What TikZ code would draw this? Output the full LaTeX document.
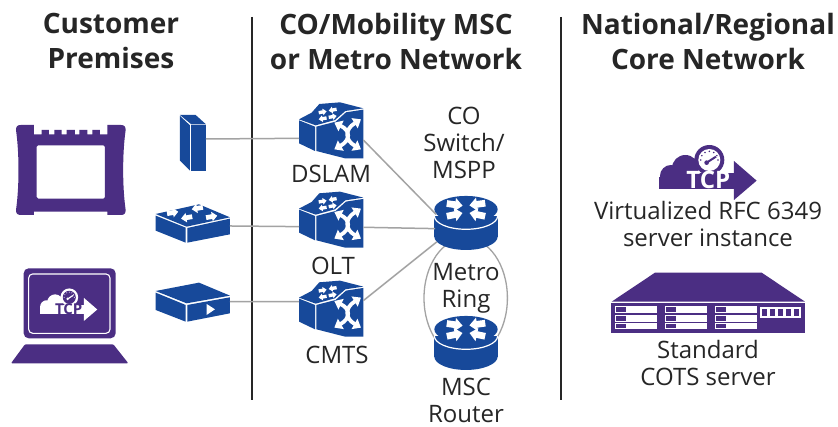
\documentclass[tikz,border=0pt]{standalone}
\usepackage{fontspec}
\setmainfont{Open Sans}
\usetikzlibrary{arrows.meta}
\definecolor{vblue}{HTML}{17499A}
\definecolor{vpurple}{HTML}{4B2E83}
\definecolor{vgray}{HTML}{A3A3A3}
\definecolor{vtext}{HTML}{262626}
\tikzset{
  wire/.style={draw=vgray,line width=1.5pt},
  divider/.style={draw=vtext,line width=1.1pt},
  lbl/.style={text=vtext,align=center,inner sep=0pt,font=\fontsize{24}{27}\selectfont},
  head/.style={text=vtext,align=center,inner sep=0pt,font=\fontsize{28}{35}\selectfont\bfseries},
  xarrow/.style={draw=white,line width=3.8pt,{Triangle[length=7.5pt,width=11.5pt]}-{Triangle[length=7.5pt,width=11.5pt]}},
  zoomed/.style={x=.3333pt,y=-.3333pt},
}
\newcommand{\smallarrow}[4]{%
  \fill[white,shift={(#1,#2)},rotate=#3,scale=#4]
    (-1,-.42)--(0.05,-.42)--(0.05,-.85)--(1,0)--(0.05,.85)--(0.05,.42)--(-1,.42)--cycle;}
% #1 x, #2 y, #3 name, #4 left port y, #5 right port y
\newcommand{\xswitch}[5]{%
  \begin{scope}[shift={(#1,#2)},zoomed]
    \fill[vblue] (57,88)--(95,68)--(118,42)--(180,37)--(250,55)--(196,63)--(165,90)--(107,106)--cycle;
    \fill[vblue] (57,91)--(105,110)--(105,183)--(57,160)--cycle;
    \fill[vblue] (109,110)--(167,95)--(198,67)--(250,59)--(250,205)--(195,205)--(109,183)--cycle;
    \smallarrow{128}{66}{10}{12}\smallarrow{158}{60}{190}{12}
    \smallarrow{128}{86}{190}{12}\smallarrow{158}{80}{10}{12}
    \draw[xarrow] (163,98) .. controls (212,122) and (212,150) .. (163,178);
    \draw[xarrow] (243,88) .. controls (194,118) and (194,150) .. (243,178);
    \coordinate (#3L) at (57,#4);
    \coordinate (#3R) at (250,#5);
  \end{scope}}
% #1 x, #2 y of the top-face centre, #3 name
\newcommand{\vrouter}[3]{%
  \begin{scope}[shift={(#1,#2)},zoomed]
    \fill[vblue] (-95,20) rectangle (95,82);
    \fill[vblue] (0,82) circle[x radius=95,y radius=40];
    \fill[vblue] (0,0) circle[x radius=95,y radius=40];
    \draw[white,line width=1.2pt] (-95,20) arc[start angle=180,end angle=0,x radius=95,y radius=40];
    \smallarrow{-34}{-14}{-8}{24}\smallarrow{34}{-15}{188}{24}
    \smallarrow{-34}{16}{12}{24}\smallarrow{34}{16}{168}{24}
    \coordinate (#3a) at (-90,15);
    \coordinate (#3b) at (-93,58);
    \coordinate (#3c) at (-88,98);
  \end{scope}}
% #1 x, #2 y of gauge centre, #3 scale, #4 ink, #5 paper, #6 font size
\newcommand{\tcpicon}[6]{%
  \begin{scope}[shift={(#1,#2)},x=#3pt,y=-#3pt]
    \fill[#4] (-150,50) rectangle (74,87);
    \fill[#4] (-80,38) rectangle (74,87);
    \fill[#4] (-115,48) circle[radius=33];
    \fill[#4] (-72,25) circle[radius=40];
    \fill[#4] (74,3) -- (142,62) -- (74,120) -- cycle;
    \fill[#4] (0,0) circle[radius=45];
    \fill[#5] (0,0) circle[radius=33];
    \foreach \a in {180,210,...,360}{\fill[#4] (\a:26) circle[radius=2.6];}
    \draw[#4,line width=#3*6pt] (-8,8) -- (20,-10);
    \fill[#4] (-8,8) circle[radius=7];
    \node[inner sep=0pt,text=#5,font=\fontsize{#6}{10}\selectfont\bfseries] (tcp#6) at (-3,60) {TCP};
  \end{scope}}
\begin{document}
\begin{tikzpicture}[x=1pt,y=-1pt]
\useasboundingbox (0,0) rectangle (838,427);
\fill[white] (0,0) rectangle (838,427);

% dividers
\coordinate (d1a) at (252,17); \coordinate (d1b) at (252,400);
\coordinate (d2a) at (561,17); \coordinate (d2b) at (561,400);
\draw[divider] (d1a)--(d1b);
\draw[divider] (d2a)--(d2b);

% headings
\node[head] (h1) at (111,41.5) {Customer\\Premises};
\node[head] (h2) at (396,41.5) {CO/Mobility MSC\\or Metro Network};
\node[head] (h3) at (708,41.5) {National/Regional\\Core Network};

% metro ring behind routers
\coordinate (ringc) at (465.7,298);
\draw[draw=vgray,line width=1.3pt] (ringc) circle[x radius=41.7,y radius=60];

% left column, in zoomed units
\begin{scope}[shift={(0,90)},zoomed]
  % tester
  \fill[vpurple,even odd rule] (102,105) -- (62,105) .. controls (52,105) and (48,110) .. (48,120)
    .. controls (58,190) and (58,290) .. (48,360) .. controls (48,370) and (52,375) .. (62,375)
    -- (102,375) -- (102,365) -- (322,365) -- (322,375) -- (363,375)
    .. controls (373,375) and (377,370) .. (377,360) .. controls (367,290) and (367,190) .. (377,120)
    .. controls (377,110) and (373,105) .. (363,105) -- (322,105) -- (322,133) -- (300,133) -- (300,120)
    -- (277,120) -- (277,133) -- (262,133) -- (262,120) -- (238,120) -- (238,133) -- (225,133) -- (225,120)
    -- (200,120) -- (200,133) -- (185,133) -- (185,120) -- (163,120) -- (163,133) -- (147,133) -- (147,120)
    -- (125,120) -- (125,133) -- (102,133) -- cycle
    [rounded corners=1.5pt] (110,166) rectangle (315,326);
  % DSL modem
  \fill[vblue] (540,75)--(587,75)--(618,103)--(574,103)--cycle;
  \fill[vblue] (540,78)--(570,106)--(570,242)--(540,212)--cycle;
  \fill[vblue] (574,106)--(618,106)--(618,242)--(574,242)--cycle;
  \coordinate (dev1) at (618,147);
  % switch box
  \fill[vblue] (467,372)--(597,343)--(690,382)--(560,410)--cycle;
  \fill[vblue] (467,377)--(557,413)--(557,458)--(467,422)--cycle;
  \fill[vblue] (562,414)--(690,386)--(690,433)--(562,458)--cycle;
  \smallarrow{518}{368}{10}{17}\smallarrow{592}{355}{190}{17}
  \smallarrow{560}{383}{190}{17}\smallarrow{635}{380}{10}{17}
  \coordinate (dev2) at (690,408);
  % video box
  \fill[vblue] (467,603)--(597,578)--(690,617)--(560,640)--cycle;
  \fill[vblue] (467,608)--(557,645)--(557,695)--(467,660)--cycle;
  \fill[vblue] (562,645)--(690,622)--(690,670)--(562,695)--cycle;
  \fill[white] (620,642)--(645,658)--(620,675)--cycle;
  \coordinate (dev3) at (690,635);
  % laptop
  \fill[vpurple,rounded corners=5pt] (71,535) rectangle (347,745);
  \draw[white,line width=1.1pt,rounded corners=4pt] (86,552) rectangle (330,730);
  \fill[vpurple,rounded corners=1pt] (75,763) -- (340,763) -- (385,820) -- (33,820) -- cycle;
\end{scope}
\tcpicon{69.3}{297.3}{.197}{white}{vpurple}{15}

% cross-connects
\xswitch{280}{90}{dslam}{145}{150}
\xswitch{280}{179.3}{olt}{142}{144}
\xswitch{280}{268.3}{cmts}{100}{97}

% routers
\vrouter{466}{209.3}{co}
\vrouter{466}{329.3}{msc}

% connectors
\draw[wire] (dev1) -- (dslamL);
\draw[wire] (dev2) -- (oltL);
\draw[wire] (dev3) -- (cmtsL);
\draw[wire] (dslamR) -- (coa);
\draw[wire] (oltR) -- (cob);
\draw[wire] (cmtsR) -- (coc);

% labels
\node[lbl] (ldslam) at (331,174) {DSLAM};
\node[lbl] (lolt) at (333,266) {OLT};
\node[lbl] (lcmts) at (337,355) {CMTS};
\node[lbl] (lco) at (464,143) {CO\\Switch/\\MSPP};
\node[lbl] (lring) at (466,288.5) {Metro\\Ring};
\node[lbl] (lmsc) at (466,400.5) {MSC\\Router};
\node[lbl] (lvirt) at (708,224) {Virtualized RFC 6349\\server instance};
\node[lbl] (lstd) at (708,363.5) {Standard\\COTS server};

% right column
\tcpicon{709.3}{160}{.3333}{vpurple}{white}{24}
\begin{scope}[shift={(590,130)},zoomed]
  \fill[vpurple] (195,428) -- (515,428) -- (645,515) -- (65,515) -- cycle;
  \fill[vpurple] (63,519) rectangle (645,608);
  \foreach \cx in {75,225,375}{
    \foreach \ry/\rh in {528/20,555/20,580/18}{
      \fill[white] (\cx,\ry) rectangle ++(125,\rh);
      \fill[vpurple] (\cx+3,\ry+3) rectangle ++(30,\rh-6);
    }
  }
  \fill[white] (510,532) rectangle (633,563);
  \foreach \cx in {516,540,564,588,612}{\fill[vpurple] (\cx,536) rectangle ++(15,23);}
\end{scope}
\end{tikzpicture}
\end{document}
